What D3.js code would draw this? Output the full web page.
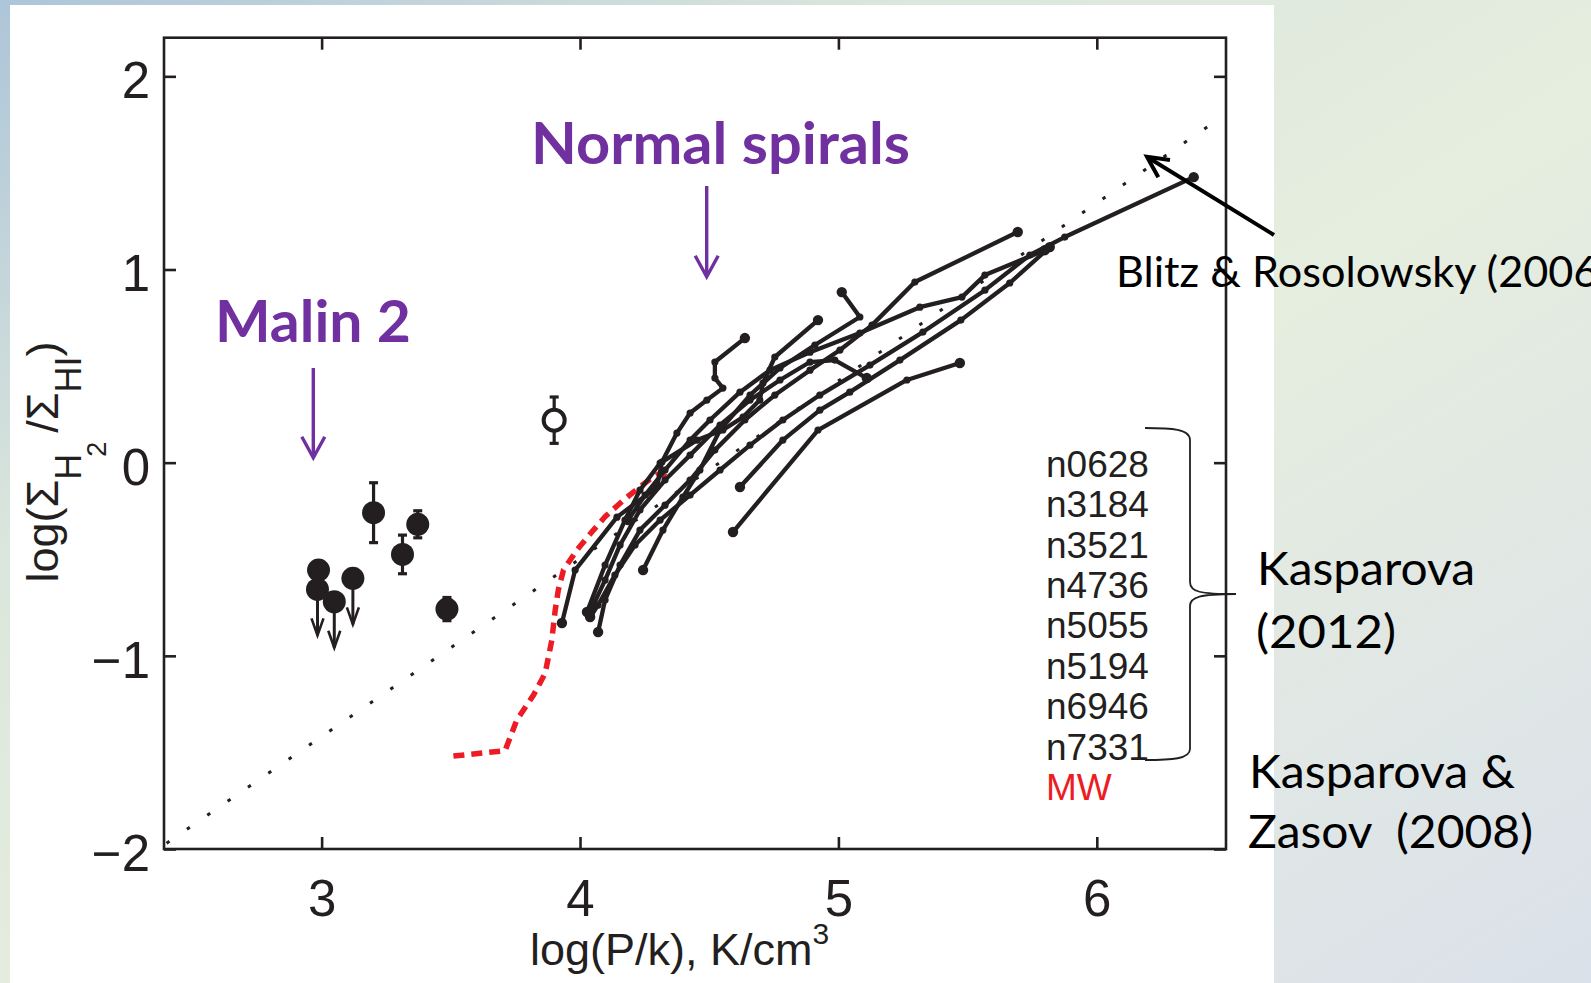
<!DOCTYPE html>
<html>
<head>
<meta charset="utf-8">
<script src="https://cdn.jsdelivr.net/npm/d3@7"></script>
<style>
  html, body { margin: 0; padding: 0; overflow: hidden; background: #fff; }
  svg { display: block; }
</style>
</head>
<body>
<div id="chart"></div>
<script>

// *** DATA ***

//Axis ticks
const xTicks = [3, 4, 5, 6];
const yTicks = [-2, -1, 0, 1, 2];

//Legend names
const galaxyNames = ["n0628", "n3184", "n3521", "n4736", "n5055", "n5194", "n6946", "n7331"];
const mwName = "MW";

//Kasparova (2012) radial profiles: log(P/k) and log(Sigma_H2/Sigma_HI)
const profileLogP = [
  [4.638, 4.522, 4.522, 4.553, 4.491, 4.426, 4.375, 4.317, 4.298, 4.143, 3.981, 3.930],
  [4.921, 4.754, 4.708, 4.696, 4.631, 4.553, 4.453, 4.310, 4.232, 4.174, 4.097, 4.027],
  [5.013, 5.083, 4.909, 4.774, 4.658, 4.542, 4.464, 4.398, 4.321, 4.244],
  [6.375, 5.876, 5.741, 5.567, 5.327, 5.122, 4.928, 4.785, 4.658, 4.542, 4.426, 4.310, 4.213, 4.135, 4.070, 4.039],
  [5.694, 5.296, 5.130, 5.006, 4.890, 4.754, 4.638, 4.522, 4.426, 4.329, 4.232, 4.155, 4.097, 4.070],
  [5.470, 5.265, 4.921, 4.592],
  [4.619, 4.785, 4.928, 5.044, 5.238, 5.474, 5.663, 5.818],
  [5.110, 4.986, 4.890, 4.774, 4.658, 4.542, 4.426, 4.329, 4.232, 4.155, 4.097, 4.039],
  [5.799, 5.567, 5.478, 5.315, 5.083, 4.890, 4.735, 4.619, 4.503, 4.426, 4.329, 4.252, 4.186]
];
const profileLogR = [
  [0.645, 0.521, 0.438, 0.386, 0.324, 0.257, 0.153, 0.003, -0.126, -0.282, -0.556, -0.830],
  [0.738, 0.547, 0.412, 0.324, 0.236, 0.169, 0.117, -0.002, -0.142, -0.297, -0.530, -0.773],
  [0.883, 0.754, 0.609, 0.490, 0.350, 0.169, -0.038, -0.178, -0.349, -0.556],
  [1.478, 1.168, 1.075, 0.893, 0.676, 0.505, 0.350, 0.221, 0.091, -0.038, -0.168, -0.297, -0.426, -0.582, -0.737, -0.799],
  [1.194, 0.935, 0.712, 0.583, 0.479, 0.350, 0.221, 0.065, -0.090, -0.220, -0.349, -0.530, -0.711, -0.877],
  [0.516, 0.428, 0.169, -0.359],
  [-0.126, 0.117, 0.272, 0.365, 0.531, 0.738, 0.930, 1.116],
  [0.438, 0.531, 0.521, 0.428, 0.324, 0.195, 0.039, -0.090, -0.245, -0.426, -0.608, -0.773],
  [1.100, 0.971, 0.857, 0.805, 0.671, 0.572, 0.479, 0.365, 0.221, 0.117, -0.038, -0.168, -0.297]
];

//Milky Way, Kasparova & Zasov (2008)
const mwLogP = [3.510, 3.710, 3.755, 3.820, 3.865, 3.891, 3.904, 3.916, 3.936, 3.988, 4.052, 4.097, 4.168, 4.232, 4.284, 4.310, 4.355];
const mwLogR = [-1.519, -1.491, -1.333, -1.203, -1.091, -0.918, -0.763, -0.659, -0.556, -0.452, -0.349, -0.280, -0.194, -0.125, -0.073, -0.055, -0.090];

//Blitz & Rosolowsky (2006) relation, end points
const blitzLogP = [2.40, 6.43];
const blitzLogR = [-1.97, 1.74];

//Malin 2 points
const malinLogP = [2.988, 2.984, 3.049, 3.121, 3.201, 3.313, 3.372, 3.485];
const malinLogR = [-0.556, -0.656, -0.720, -0.599, -0.259, -0.475, -0.319, -0.758];
const malinErr = [0, 0, 0, 0, 0.155, 0.10, 0.07, 0.06];
const malinUpper = [false, true, true, true, false, false, false, false];

//Open point
const openLogP = [3.90];
const openLogR = [0.22];
const openErr = [0.12];

// *** END OF DATA ***

//Width, height and plot box
const W = 1591, H = 983;
const box = {left: 164, right: 1226, top: 37.7, bottom: 849};

const ink = "#231f20";
const purple = "#7030a0";
const red = "#ed1c24";
const plotFont = "'Liberation Sans', Arial, sans-serif";
const slideFont = "Lato, 'Open Sans', sans-serif";

const svg = d3.select("#chart").append("svg")
  .attr("width", W)
  .attr("height", H);

//Slide background
const defs = svg.append("defs");
const grad = defs.append("linearGradient")
  .attr("id", "bg")
  .attr("x1", 0).attr("y1", 0).attr("x2", 1).attr("y2", 1);
grad.append("stop").attr("offset", 0).attr("stop-color", "#adc5d9");
grad.append("stop").attr("offset", 0.28).attr("stop-color", "#dbe6dc");
grad.append("stop").attr("offset", 0.55).attr("stop-color", "#e6eedf");
grad.append("stop").attr("offset", 1).attr("stop-color", "#dbe1ea");

svg.append("rect").attr("width", W).attr("height", H).attr("fill", "url(#bg)");
svg.append("rect")
  .attr("x", 10).attr("y", 5)
  .attr("width", 1264).attr("height", H - 5)
  .attr("fill", "white");

//Scales
const x = d3.scaleLinear().domain([2.39, 6.5]).range([box.left, box.right]);
const y = d3.scaleLinear().domain([-2, 2.2]).range([box.bottom, box.top]);

const minus = d => d < 0 ? "\u2212" + Math.abs(d) : String(d);

//Axes, ticks pointing in
function styleAxis(g) {
  g.select(".domain").remove();
  g.attr("font-family", plotFont).attr("font-size", 51);
  g.selectAll(".tick line").attr("stroke", ink).attr("stroke-width", 2.6);
  g.selectAll(".tick text").attr("fill", ink);
}

svg.append("g")
  .attr("transform", `translate(0,${box.bottom})`)
  .call(d3.axisBottom(x).tickValues(xTicks).tickSizeInner(-12).tickSizeOuter(0).tickPadding(31).tickFormat(d3.format("d")))
  .call(styleAxis);

svg.append("g")
  .attr("transform", `translate(0,${box.top})`)
  .call(d3.axisTop(x).tickValues(xTicks).tickSizeInner(-12).tickSizeOuter(0).tickFormat(""))
  .call(styleAxis);

svg.append("g")
  .attr("transform", `translate(${box.left},0)`)
  .call(d3.axisLeft(y).tickValues(yTicks).tickSizeInner(-12).tickSizeOuter(0).tickPadding(14).tickFormat(minus))
  .call(styleAxis)
  .selectAll(".tick text").attr("dy", "0.42em");

svg.append("g")
  .attr("transform", `translate(${box.right},0)`)
  .call(d3.axisRight(y).tickValues(yTicks).tickSizeInner(-12).tickSizeOuter(0).tickFormat(""))
  .call(styleAxis);

//Frame
svg.append("rect")
  .attr("x", box.left).attr("y", box.top)
  .attr("width", box.right - box.left).attr("height", box.bottom - box.top)
  .attr("fill", "none")
  .attr("stroke", ink)
  .attr("stroke-width", 2.6);

//Axis titles
const xTitle = svg.append("text")
  .attr("x", 530).attr("y", 965)
  .attr("font-family", plotFont).attr("font-size", 45)
  .attr("fill", ink);
xTitle.append("tspan").text("log(P/k), K/cm");
xTitle.append("tspan").attr("font-size", 30).attr("dy", -21).text("3");

const yTitle = svg.append("text")
  .attr("transform", "translate(58,462) rotate(-90)")
  .attr("text-anchor", "middle")
  .attr("font-family", plotFont).attr("font-size", 45)
  .attr("fill", ink);
yTitle.append("tspan").text("log(\u03A3");
yTitle.append("tspan").attr("font-size", 36).attr("dy", 23).text("H");
yTitle.append("tspan").attr("font-size", 27).attr("dy", 25).attr("dx", -3).text("2");
yTitle.append("tspan").attr("dy", -48).text("\u2009/\u03A3");
yTitle.append("tspan").attr("font-size", 36).attr("dy", 23).text("HI");
yTitle.append("tspan").attr("dy", -23).text(")");

const line = d3.line().x(d => x(d[0])).y(d => y(d[1]));

//Blitz & Rosolowsky dotted relation
svg.append("path")
  .datum(d3.zip(blitzLogP, blitzLogR))
  .attr("d", line)
  .attr("fill", "none")
  .attr("stroke", ink)
  .attr("stroke-width", 3)
  .attr("stroke-dasharray", "3.5 21.2");

//Milky Way dashed profile
svg.append("path")
  .datum(d3.zip(mwLogP, mwLogR))
  .attr("d", line)
  .attr("fill", "none")
  .attr("stroke", red)
  .attr("stroke-width", 5.5)
  .attr("stroke-dasharray", "11 7");

//Galaxy profiles
const profiles = svg.append("g").attr("class", "profiles");
profileLogP.forEach((xs, i) => {
  const pts = d3.zip(xs, profileLogR[i]);
  const g = profiles.append("g");
  g.append("path")
    .datum(pts)
    .attr("d", line)
    .attr("fill", "none")
    .attr("stroke", ink)
    .attr("stroke-width", 4.3)
    .attr("stroke-linejoin", "round");
  g.selectAll("circle")
    .data(pts)
    .enter()
    .append("circle")
      .attr("cx", d => x(d[0]))
      .attr("cy", d => y(d[1]))
      .attr("r", (d, j) => (j == 0 || j == pts.length - 1) ? 5.2 : 3.6)
      .attr("fill", ink);
});

//Malin 2 error bars
const malin = svg.append("g").attr("class", "malin");
malinLogP.forEach((px, i) => {
  const cx = x(px), cy = y(malinLogR[i]);
  if (malinErr[i] > 0) {
    const y1 = y(malinLogR[i] + malinErr[i]), y2 = y(malinLogR[i] - malinErr[i]);
    malin.append("line").attr("x1", cx).attr("x2", cx).attr("y1", y1).attr("y2", y2)
      .attr("stroke", ink).attr("stroke-width", 3.2);
    [y1, y2].forEach(yy => malin.append("line")
      .attr("x1", cx - 4.5).attr("x2", cx + 4.5).attr("y1", yy).attr("y2", yy)
      .attr("stroke", ink).attr("stroke-width", 3.2));
  }
});

//Malin 2 points
malin.selectAll("circle")
  .data(d3.range(malinLogP.length))
  .enter()
  .append("circle")
    .attr("cx", i => x(malinLogP[i]))
    .attr("cy", i => y(malinLogR[i]))
    .attr("r", 11.5)
    .attr("fill", ink);

//Upper limit arrows
malinLogP.forEach((px, i) => {
  if (!malinUpper[i]) return;
  const cx = x(px), cy = y(malinLogR[i]), tip = cy + 46;
  malin.append("line").attr("x1", cx).attr("x2", cx).attr("y1", cy).attr("y2", tip)
    .attr("stroke", ink).attr("stroke-width", 3);
  malin.append("path")
    .attr("d", `M${cx - 6},${tip - 17}L${cx},${tip}L${cx + 6},${tip - 17}`)
    .attr("fill", "none").attr("stroke", ink).attr("stroke-width", 2.6);
});

//Open point
openLogP.forEach((px, i) => {
  const cx = x(px), cy = y(openLogR[i]);
  const y1 = y(openLogR[i] + openErr[i]), y2 = y(openLogR[i] - openErr[i]);
  malin.append("line").attr("x1", cx).attr("x2", cx).attr("y1", y1).attr("y2", y2)
    .attr("stroke", ink).attr("stroke-width", 3.2);
  [y1, y2].forEach(yy => malin.append("line")
    .attr("x1", cx - 4.5).attr("x2", cx + 4.5).attr("y1", yy).attr("y2", yy)
    .attr("stroke", ink).attr("stroke-width", 3.2));
  malin.append("circle").attr("cx", cx).attr("cy", cy).attr("r", 10.5)
    .attr("fill", "white").attr("stroke", ink).attr("stroke-width", 4);
});

//Legend names
const legend = svg.append("g")
  .attr("font-family", plotFont)
  .attr("font-size", 37);
legend.selectAll("text")
  .data(galaxyNames.concat([mwName]))
  .enter()
  .append("text")
    .attr("x", 1046)
    .attr("y", (d, i) => 476.7 + i * 40.4)
    .attr("fill", d => d == mwName ? red : ink)
    .text(d => d);

//Brace
svg.append("path")
  .attr("d", "M1145,428 C1172,428 1190,429 1190,440 L1190,582 C1190,592 1200,594 1236,594 C1200,594 1190,597 1190,606 L1190,749 C1190,759 1172,760 1145,760")
  .attr("fill", "none")
  .attr("stroke", ink)
  .attr("stroke-width", 1.8);

//Purple annotations
function downArrow(cx, y0, y1) {
  svg.append("line").attr("x1", cx).attr("x2", cx).attr("y1", y0).attr("y2", y1 - 2)
    .attr("stroke", purple).attr("stroke-width", 3.4);
  svg.append("path")
    .attr("d", `M${cx - 11.5},${y1 - 21}L${cx},${y1}L${cx + 11.5},${y1 - 21}`)
    .attr("fill", "none").attr("stroke", purple).attr("stroke-width", 3.4);
}
downArrow(313.3, 368, 457.7);
downArrow(706.7, 186, 276.7);

svg.append("text")
  .attr("x", 531).attr("y", 164)
  .attr("font-family", slideFont).attr("font-weight", 700).attr("font-size", 57)
  .attr("textLength", 379).attr("lengthAdjust", "spacingAndGlyphs")
  .attr("fill", purple)
  .text("Normal spirals");

svg.append("text")
  .attr("x", 215).attr("y", 342)
  .attr("font-family", slideFont).attr("font-weight", 700).attr("font-size", 57)
  .attr("textLength", 196).attr("lengthAdjust", "spacingAndGlyphs")
  .attr("fill", purple)
  .text("Malin 2");

//Black reference labels
const refs = [
  {text: "Blitz & Rosolowsky (2006)", x: 1116, y: 287, size: 43, len: 494},
  {text: "Kasparova", x: 1257, y: 585, size: 46.5, len: 218},
  {text: "(2012)", x: 1256, y: 648, size: 46.5, len: 140},
  {text: "Kasparova &", x: 1249, y: 788, size: 46.5, len: 266},
  {text: "Zasov\u00A0 (2008)", x: 1248, y: 848, size: 46.5, len: 285}
];
svg.append("g")
  .selectAll("text")
  .data(refs)
  .enter()
  .append("text")
    .attr("x", d => d.x)
    .attr("y", d => d.y)
    .attr("font-family", slideFont)
    .attr("font-size", d => d.size)
    .attr("textLength", d => d.len)
    .attr("lengthAdjust", "spacingAndGlyphs")
    .attr("fill", "black")
    .text(d => d.text);

//Arrow to Blitz relation
svg.append("line")
  .attr("x1", 1274).attr("y1", 235).attr("x2", 1148).attr("y2", 157.5)
  .attr("stroke", "black").attr("stroke-width", 4);
svg.append("path")
  .attr("d", "M1170,160L1147,156.7L1158.3,177.3")
  .attr("fill", "none").attr("stroke", "black").attr("stroke-width", 4);

</script>
</body>
</html>
